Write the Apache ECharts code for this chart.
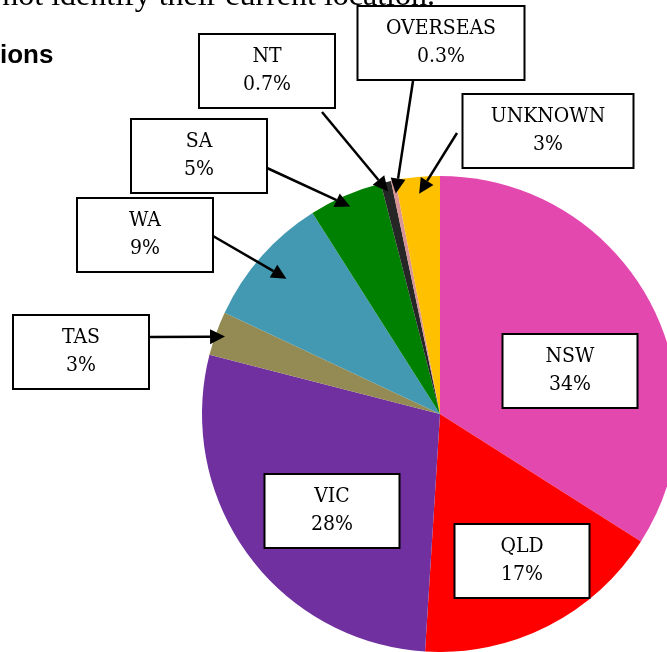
<!DOCTYPE html>
<html>
<head>
<meta charset="utf-8">
<script src="https://cdn.jsdelivr.net/npm/echarts@6/dist/echarts.min.js"></script>
<style>
html,body{margin:0;padding:0;background:#fff;}
#main{width:667px;height:652px;}
</style>
</head>
<body>
<div id="main"></div>
<script>
// data
var states = ['NSW', 'QLD', 'VIC', 'TAS', 'WA', 'SA', 'NT', 'OVERSEAS', 'UNKNOWN'];
var shares = [34, 17, 28, 3, 9, 5, 0.7, 0.3, 3];
var shareLabels = ['34%', '17%', '28%', '3%', '9%', '5%', '0.7%', '0.3%', '3%'];
var colors = ['#E348AF', '#FF0000', '#7030A0', '#948A54', '#4299B1', '#008000', '#262626', '#D99594', '#FFC000'];

// layout of the callout boxes (c = box centre, from = arrow start, k = arrow tip radius share)
var pieCenter = [440, 414];
var pieRadius = 238;
var boxLayout = {
  NSW:      {c: [570, 371], w: 133},
  QLD:      {c: [522, 561], w: 133},
  VIC:      {c: [332, 511], w: 133},
  TAS:      {c: [81, 352],  w: 134, from: [149, 337], k: 0.96},
  WA:       {c: [145, 235], w: 134, from: [213, 236], k: 0.86},
  SA:       {c: [199, 156], w: 134, from: [267, 168], k: 0.95},
  NT:       {c: [267, 71],  w: 134, from: [322, 112], k: 0.96},
  OVERSEAS: {c: [441, 43],  w: 165, from: [413, 81],  k: 0.945},
  UNKNOWN:  {c: [548, 131], w: 169, from: [457, 133], k: 0.93}
};

var total = shares.reduce(function (a, b) { return a + b; }, 0);

// arrow tip and base for a slice: middle of its angle, k of the radius
function arrowFor(i) {
  var b = boxLayout[states[i]];
  var before = 0;
  for (var j = 0; j < i; j++) before += shares[j];
  var a = (before + shares[i] / 2) / total * Math.PI * 2;
  var tip = [pieCenter[0] + b.k * pieRadius * Math.sin(a), pieCenter[1] - b.k * pieRadius * Math.cos(a)];
  var dx = tip[0] - b.from[0], dy = tip[1] - b.from[1];
  var len = Math.sqrt(dx * dx + dy * dy);
  var ux = dx / len, uy = dy / len;
  var base = [tip[0] - ux * 15, tip[1] - uy * 15];
  return {
    base: base,
    head: [tip, [base[0] - uy * 7.5, base[1] + ux * 7.5], [base[0] + uy * 7.5, base[1] - ux * 7.5]]
  };
}

var pieData = states.map(function (s, i) {
  return {
    name: s,
    value: shares[i],
    itemStyle: {color: colors[i]},
    label: {width: boxLayout[s].w}
  };
});

var graphics = [
  {
    type: 'text', right: 232, top: -19,
    style: {text: 'not identify their current location.', font: '32px "Liberation Serif"', fill: '#000'}
  },
  {
    type: 'text', left: 0, top: 43,
    style: {text: 'ions', font: 'bold 26px "Liberation Sans"', fill: '#000'}
  }
];
states.forEach(function (s, i) {
  var b = boxLayout[s];
  if (!b.from) return;
  var ar = arrowFor(i);
  graphics.push({
    type: 'line',
    shape: {x1: b.from[0], y1: b.from[1], x2: ar.base[0], y2: ar.base[1]},
    style: {stroke: '#000', lineWidth: 2.5},
    z: 10
  });
  graphics.push({
    type: 'polygon',
    shape: {points: ar.head},
    style: {fill: '#000'},
    z: 10
  });
});

var chart = echarts.init(document.getElementById('main'));
chart.setOption({
  animation: false,
  graphic: graphics,
  series: [{
    type: 'pie',
    center: pieCenter,
    radius: pieRadius,
    startAngle: 90,
    clockwise: true,
    avoidLabelOverlap: false,
    emphasis: {disabled: true},
    itemStyle: {borderWidth: 0},
    label: {
      show: true,
      position: 'outside',
      formatter: function (p) { return p.name + '\n' + shareLabels[p.dataIndex]; },
      fontFamily: '"DejaVu Serif Condensed", "DejaVu Serif", serif',
      fontSize: 21,
      lineHeight: 28,
      color: '#000',
      backgroundColor: '#fff',
      borderColor: '#000',
      borderWidth: 2,
      padding: [8, 0, 8, 0],
      align: 'center'
    },
    labelLine: {show: false},
    labelLayout: function (p) {
      var b = boxLayout[states[p.dataIndex]];
      return {x: b.c[0], y: b.c[1], align: 'center', verticalAlign: 'middle'};
    },
    data: pieData
  }]
});
</script>
</body>
</html>
